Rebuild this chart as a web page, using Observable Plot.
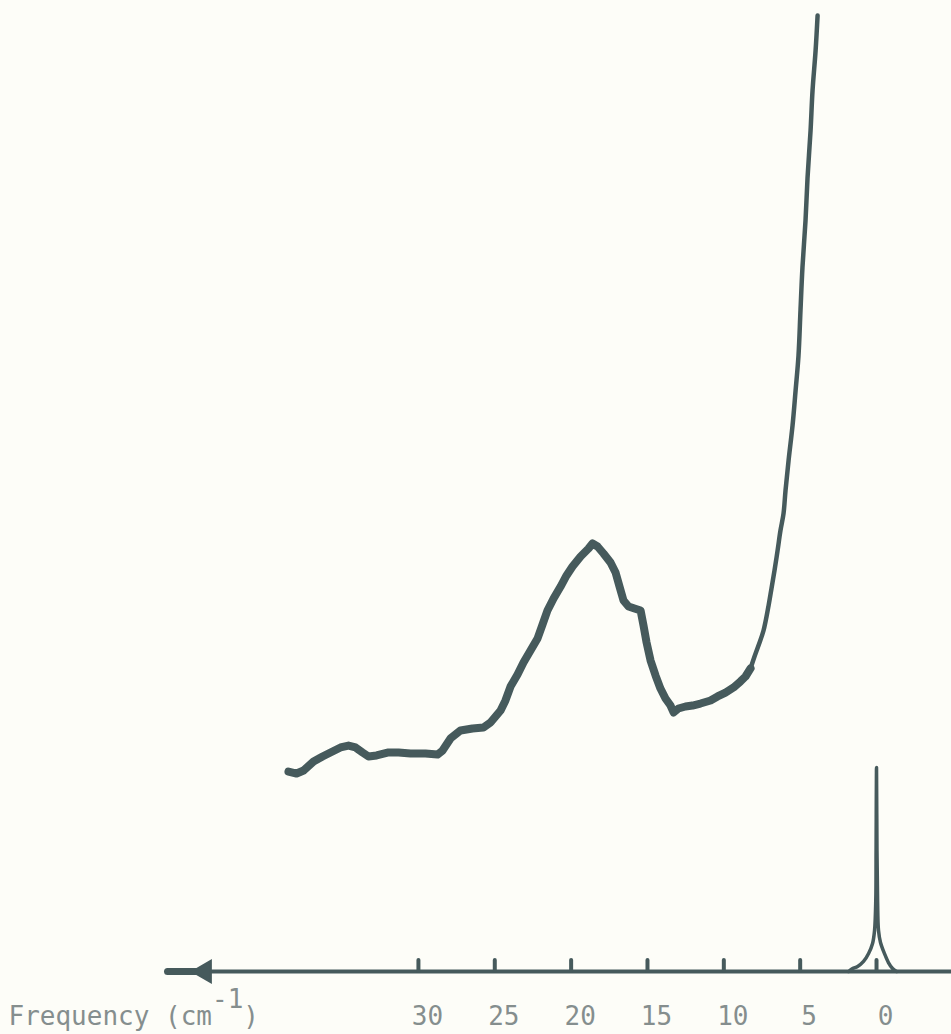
<!DOCTYPE html>
<html>
<head>
<meta charset="utf-8">
<script src="https://cdn.jsdelivr.net/npm/d3@7"></script>
<script src="https://cdn.jsdelivr.net/npm/@observablehq/plot@0.6"></script>
<style>
  html, body { margin: 0; padding: 0; background: #fdfdf8; }
  #chart { width: 951px; height: 1034px; }
</style>
</head>
<body>
<div id="chart"></div>
<script>
// Low-frequency Raman band region (noisy trace), frequency in cm^-1, intensity in arbitrary units
const bandFreq = [38.51, 37.98, 37.52, 36.87, 36.28, 35.76, 35.10, 34.58, 34.12, 33.66, 33.27, 32.74, 32.02, 31.30, 30.52, 29.54, 28.75, 28.42, 27.90, 27.24, 26.46, 25.74, 25.28, 24.95, 24.62, 24.30, 23.97, 23.51, 23.12, 22.66, 22.20, 21.87, 21.55, 21.15, 20.69, 20.30, 19.91, 19.38, 18.86, 18.60, 18.27, 17.88, 17.42, 17.09, 16.83, 16.57, 16.24, 15.85, 15.45, 15.26, 15.06, 14.80, 14.47, 14.15, 13.82, 13.49, 13.29, 12.97, 12.51, 12.05, 11.53, 10.87, 10.41, 9.89, 9.36, 8.91, 8.58, 8.25];
const bandIntensity = [20.94, 20.73, 21.05, 21.99, 22.51, 22.93, 23.46, 23.66, 23.46, 22.93, 22.51, 22.62, 22.93, 22.93, 22.83, 22.83, 22.72, 23.14, 24.40, 25.24, 25.45, 25.55, 26.07, 26.70, 27.33, 28.38, 29.84, 31.10, 32.36, 33.61, 34.87, 36.34, 37.80, 39.06, 40.31, 41.47, 42.41, 43.46, 44.29, 44.82, 44.50, 43.77, 42.83, 41.78, 40.31, 38.85, 38.22, 38.01, 37.80, 36.23, 34.45, 32.57, 30.99, 29.63, 28.59, 27.85, 27.12, 27.54, 27.75, 27.85, 28.06, 28.38, 28.80, 29.21, 29.74, 30.37, 30.89, 31.73];

// Rising Rayleigh wing (smooth trace)
const wingFreq = [8.25, 7.99, 7.73, 7.40, 7.07, 6.88, 6.68, 6.48, 6.29, 6.09, 5.96, 5.76, 5.50, 5.30, 5.11, 4.98, 4.85, 4.65, 4.52, 4.32, 4.19, 3.99, 3.86];
const wingIntensity = [31.73, 32.98, 34.14, 35.71, 38.32, 40.10, 41.99, 44.08, 46.18, 47.96, 50.37, 53.51, 57.17, 60.84, 64.50, 69.21, 73.72, 78.64, 83.04, 88.06, 92.25, 96.44, 100.10];

// Instrument (laser) line profile at 0 cm^-1
const laserFreq = [1.83, 1.57, 1.24, 0.85, 0.52, 0.26, 0.13, 0.05, 0.03, 0.00, -0.03, -0.07, -0.13, -0.26, -0.52, -0.78, -1.05, -1.31];
const laserIntensity = [0, 0.31, 0.52, 1.05, 1.88, 2.93, 4.29, 7.43, 12.67, 21.36, 12.67, 7.43, 4.29, 3.04, 1.88, 0.94, 0.31, 0];

// Axis ticks and labels
const tickValues = [30, 25, 20, 15, 10, 5, 0];
const tickLabels = ["30", "25", "20", "15", "10", "5", "0"];
const axisLabel = "Frequency (cm-1)";

const band = bandFreq.map((f, i) => ({f, v: bandIntensity[i]}));
const wing = wingFreq.map((f, i) => ({f, v: wingIntensity[i]}));
const laser = laserFreq.map((f, i) => ({f, v: laserIntensity[i]}));

const ink = "#465a5c";
const textInk = "#858e8e";

const chart = Plot.plot({
  width: 951,
  height: 1034,
  marginLeft: 0,
  marginRight: 0,
  marginTop: 0,
  marginBottom: 63,
  style: {
    background: "#fdfdf8",
    fontFamily: "'DejaVu Sans Mono', monospace",
    fontSize: "26px",
    color: textInk
  },
  x: {domain: [57.37, -4.91], axis: null},
  y: {domain: [0, 100], range: [971, 16], axis: null},
  marks: [
    // axis line with left-pointing arrow
    Plot.ruleY([0], {x1: 44.6, x2: -6, stroke: ink, strokeWidth: 4}),
    Plot.ruleY([0], {x1: 46.4, x2: 44.0, stroke: ink, strokeWidth: 7, strokeLinecap: "round"}),
    Plot.dot([44.0], {x: d => d, y: 0, symbol: "triangle", r: 8, rotate: -90, fill: ink, stroke: ink, strokeWidth: 2}),
    // tick marks (upward)
    Plot.ruleX(tickValues, {y1: 0, y2: 1.15, stroke: ink, strokeWidth: 4, strokeLinecap: "round"}),
    // tick labels
    Plot.axisX({ticks: tickValues, tickFormat: (d) => tickLabels[tickValues.indexOf(d)], tickSize: 0, tickPadding: 35, dx: 9, label: null, fill: textInk}),
    // axis title
    Plot.text([axisLabel], {frameAnchor: "bottom-left", dx: 8, dy: 53, textAnchor: "start", fill: textInk}),
    // spectrum
    Plot.line(laser, {x: "f", y: "v", stroke: ink, strokeWidth: 3.5, curve: "catmull-rom"}),
    Plot.line(band, {x: "f", y: "v", stroke: ink, strokeWidth: 8, strokeLinejoin: "round", strokeLinecap: "round"}),
    Plot.line(wing, {x: "f", y: "v", stroke: ink, strokeWidth: 4.5, strokeLinejoin: "round", strokeLinecap: "round", curve: "catmull-rom"})
  ]
});

document.getElementById("chart").appendChild(chart);

// superscript for cm^-1
d3.select(chart).selectAll("text").filter(function() { return this.textContent === axisLabel; })
  .each(function() {
    const t = d3.select(this);
    t.text(null);
    t.append("tspan").text("Frequency (cm");
    t.append("tspan").attr("dy", "-0.62em").text("-1");
    t.append("tspan").attr("dy", "0.62em").text(")");
  });
</script>
</body>
</html>
